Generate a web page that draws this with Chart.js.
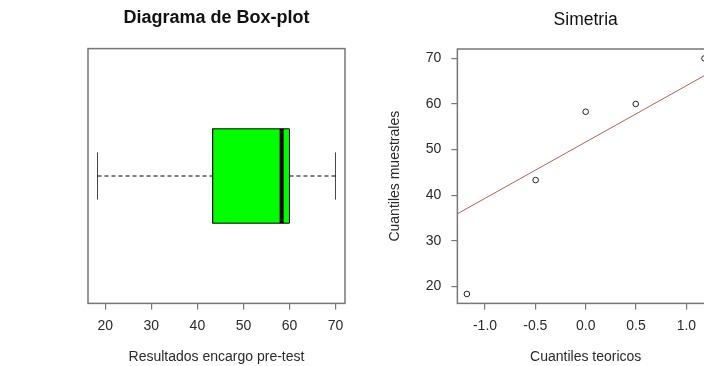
<!DOCTYPE html>
<html>
<head>
<meta charset="utf-8">
<script src="https://cdn.jsdelivr.net/npm/chart.js@4/dist/chart.umd.min.js"></script>
<style>
  html, body { margin: 0; padding: 0; background: #fff; overflow: hidden; width: 704px; height: 366px; }
  .panel { position: absolute; top: 0; height: 366px; }
  #left  { left: 0;   width: 370px; }
  #right { left: 370px; width: 360px; }
</style>
</head>
<body>
<div class="panel" id="left"><canvas id="box-chart"></canvas></div>
<div class="panel" id="right"><canvas id="qq-chart"></canvas></div>
<script>
// ── Data ────────────────────────────────────────────────────
// sample values (resultados encargo pre-test)
const muestra   = [18.3, 43.3, 58.3, 60, 70];
// box-plot five numbers: min, Q1, median, Q3, max
const cincoNums = [18.3, 43.3, 58.3, 60, 70];
// normal theoretical quantiles for n = 5
const teoricos  = [-1.18, -0.497, 0, 0.497, 1.18];
// qqline through the quartiles
const qqLinea   = { x: [-1.274, 1.274], y: [35.9, 67.4] };

const xTicksBox = [20, 30, 40, 50, 60, 70];
const xTicksQQ  = [-1.0, -0.5, 0.0, 0.5, 1.0];
const yTicksQQ  = [20, 30, 40, 50, 60, 70];

// ── Style tokens ────────────────────────────────────────────
const C = {
    frame: '#777777',
    text:  '#2a2a2a',
    green: '#00ff00',
    line:  '#b5605c',
    font:  "'Liberation Sans', Arial, sans-serif"
};

// axis range padded by 4% like R
const pad = (lo, hi) => [lo - (hi - lo) * 0.04, hi + (hi - lo) * 0.04];
const [xMinBox, xMaxBox] = pad(cincoNums[0], cincoNums[4]);
const [xMinQQ, xMaxQQ]   = pad(teoricos[0], teoricos[teoricos.length - 1]);
const [yMinQQ, yMaxQQ]   = pad(Math.min(...muestra), Math.max(...muestra));

// frame round the plot area
const framePlugin = {
    id: 'frame',
    afterDatasetsDraw(chart) {
        const { ctx, chartArea: a } = chart;
        ctx.save();
        ctx.strokeStyle = C.frame;
        ctx.lineWidth = 1.5;
        ctx.strokeRect(a.left, a.top, a.right - a.left, a.bottom - a.top);
        ctx.restore();
    }
};

const fixTicks = list => axis => { axis.ticks = list.map(v => ({ value: v })); };

const axisStyle = (ticks, label, tickPad, titlePad) => ({
    type: 'linear',
    afterBuildTicks: fixTicks(ticks),
    border: { display: false },
    grid: { drawOnChartArea: false, drawTicks: true, tickLength: 6, color: C.frame, lineWidth: 1.2 },
    ticks: { color: C.text, padding: tickPad, font: { family: C.font, size: 14 },
             callback: v => ticks === xTicksQQ ? v.toFixed(1) : v },
    title: { display: true, text: label, color: C.text, padding: titlePad,
             font: { family: C.font, size: 14 } }
});

Chart.defaults.font.family = C.font;
Chart.defaults.animation = false;

// ── Box-plot ────────────────────────────────────────────────
const [vMin, q1, med, q3, vMax] = cincoNums;
const seg = (pts, extra) => Object.assign({
    data: pts.map(([x, y]) => ({ x, y })),
    showLine: true, pointRadius: 0, borderColor: '#000', borderWidth: 1
}, extra);

// note: chart.js paints the first dataset on top, so the box goes last
new Chart(document.getElementById('box-chart'), {
    type: 'scatter',
    data: {
        datasets: [
            seg([[med, 0.8], [med, 1.2]], { borderWidth: 4 }),
            seg([[vMin, 1], [q1, 1]], { borderDash: [4, 3] }),
            seg([[q3, 1], [vMax, 1]], { borderDash: [4, 3] }),
            seg([[vMin, 0.9], [vMin, 1.1]], { borderColor: '#444' }),
            seg([[vMax, 0.9], [vMax, 1.1]], { borderColor: '#444' }),
            seg([[q1, 0.8], [q3, 0.8], [q3, 1.2], [q1, 1.2], [q1, 0.8]],
                { fill: 'shape', backgroundColor: C.green, borderWidth: 1 })
        ]
    },
    options: {
        responsive: true,
        maintainAspectRatio: false,
        layout: { padding: { left: 88, right: 25, top: 7, bottom: 0 } },
        plugins: {
            legend: { display: false },
            tooltip: { enabled: false },
            title: { display: true, text: 'Diagrama de Box-plot', color: '#111',
                     font: { family: C.font, size: 18, weight: 'bold' },
                     padding: { top: 0, bottom: 20 } }
        },
        scales: {
            x: Object.assign(axisStyle(xTicksBox, 'Resultados encargo pre-test', 8, { top: 7, bottom: 0 }),
                             { min: xMinBox, max: xMaxBox }),
            y: { type: 'linear', display: false, min: 0.46, max: 1.54 }
        }
    },
    plugins: [framePlugin]
});

// ── QQ plot ─────────────────────────────────────────────────
new Chart(document.getElementById('qq-chart'), {
    type: 'scatter',
    data: {
        datasets: [
            {
                data: teoricos.map((x, i) => ({ x, y: muestra[i] })),
                pointRadius: 2.8, pointBorderWidth: 1, pointBorderColor: '#222',
                pointBackgroundColor: 'rgba(0,0,0,0)'
            },
            {
                data: qqLinea.x.map((x, i) => ({ x, y: qqLinea.y[i] })),
                showLine: true, pointRadius: 0, borderColor: C.line, borderWidth: 1
            }
        ]
    },
    options: {
        responsive: true,
        maintainAspectRatio: false,
        clip: false,
        layout: { padding: { left: 17, right: 16, top: 7, bottom: 0 } },
        plugins: {
            legend: { display: false },
            tooltip: { enabled: false },
            title: { display: true, text: 'Simetria', color: '#111', fullSize: false,
                     font: { family: C.font, size: 17.5, weight: 'normal' },
                     padding: { top: 3, bottom: 18 } }
        },
        scales: {
            x: Object.assign(axisStyle(xTicksQQ, 'Cuantiles teoricos', 8, { top: 7, bottom: 0 }),
                             { min: xMinQQ, max: xMaxQQ }),
            y: Object.assign(axisStyle(yTicksQQ, 'Cuantiles muestrales', 10, { top: 0, bottom: 12 }),
                             { min: yMinQQ, max: yMaxQQ })
        }
    },
    plugins: [framePlugin]
});
</script>
</body>
</html>
